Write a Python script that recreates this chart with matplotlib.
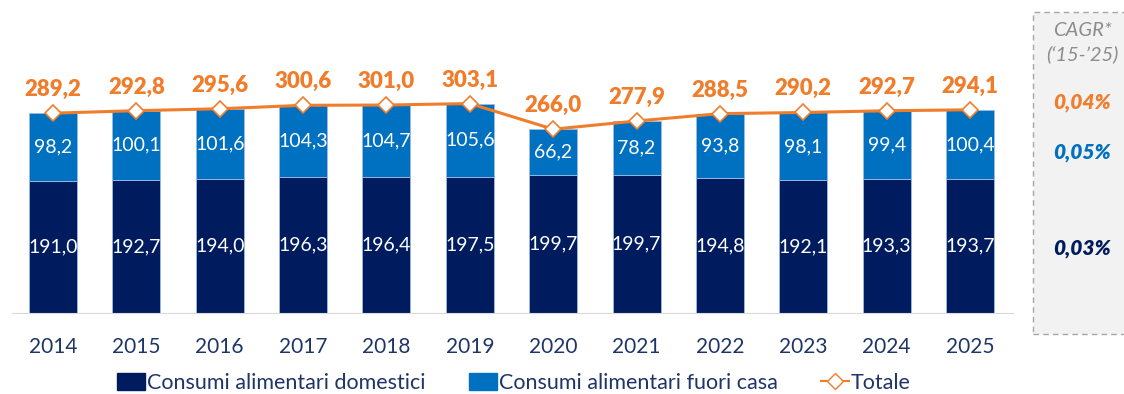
"""Consumi alimentari in Italia: domestici vs fuori casa, 2014-2025."""
import matplotlib.pyplot as plt
from matplotlib.patches import Rectangle
from matplotlib.lines import Line2D

plt.rcParams["font.family"] = ["Lato", "DejaVu Sans"]

years = ["2014", "2015", "2016", "2017", "2018", "2019",
         "2020", "2021", "2022", "2023", "2024", "2025"]
domestici = [191.0, 192.7, 194.0, 196.3, 196.4, 197.5,
             199.7, 199.7, 194.8, 192.1, 193.3, 193.7]
fuori_casa = [98.2, 100.1, 101.6, 104.3, 104.7, 105.6,
              66.2, 78.2, 93.8, 98.1, 99.4, 100.4]
totale = [289.2, 292.8, 295.6, 300.6, 301.0, 303.1,
          266.0, 277.9, 288.5, 290.2, 292.7, 294.1]
cagr = ["0,04%", "0,05%", "0,03%"]

NAVY = "#001c5e"
BLUE = "#0070c0"
ORANGE = "#f07d2b"
TEXT = "#1f3568"
EDGE = "#9dbbe3"

W, H = 1124, 394
fig = plt.figure(figsize=(W / 100, H / 100), dpi=100)
ax = fig.add_axes([12 / W, 81 / H, 1001 / W, 313 / H])
ax.set_xlim(-0.492, 11.516)
ax.set_ylim(0, 453)

x = range(len(years))
ax.bar(x, domestici, width=0.576, color=NAVY, edgecolor=EDGE, linewidth=0.6)
ax.bar(x, fuori_casa, width=0.576, bottom=domestici, color=BLUE,
       edgecolor=EDGE, linewidth=0.6)
ax.plot(x, totale, color=ORANGE, linewidth=2.2, marker="D", markersize=8,
        markerfacecolor="white", markeredgecolor=ORANGE, markeredgewidth=1.2,
        zorder=3)

fmt = lambda v: f"{v:.1f}".replace(".", ",")
for i in x:
    ax.text(i, domestici[i] / 2, fmt(domestici[i]), ha="center", va="center",
            color="white", fontsize=14)
    ax.text(i, domestici[i] + fuori_casa[i] / 2, fmt(fuori_casa[i]),
            ha="center", va="center", color="white", fontsize=14)
    ax.annotate(fmt(totale[i]), (i, totale[i]), xytext=(0, 17),
                textcoords="offset points", ha="center", va="center",
                color=ORANGE, fontsize=16, fontweight="heavy")

for s in ["left", "right", "top"]:
    ax.spines[s].set_visible(False)
ax.spines["bottom"].set_color("#d9d9d9")
ax.set_yticks([])
ax.set_xticks(list(x))
ax.set_xticklabels(years, fontsize=15, color=TEXT)
ax.tick_params(axis="x", length=0, pad=17)

# CAGR side panel
fig.patches.append(Rectangle((1033 / W, 60 / H), 100 / W, 322 / H,
                             transform=fig.transFigure, facecolor="#f2f2f2",
                             edgecolor="#a6a6a6", linestyle=(0, (4, 3)),
                             linewidth=1.0))
cx = 1082 / W
fig.text(cx, 1 - 30 / H, "CAGR*", ha="center", va="center", fontsize=14.5,
         style="italic", color="#8c8c8c")
fig.text(cx, 1 - 54 / H, "(\u201815-\u201925)", ha="center", va="center",
         fontsize=14.5, style="italic", color="#8c8c8c")
for label, yy, col in zip(cagr, [103, 153, 248], [ORANGE, BLUE, NAVY]):
    fig.text(cx, 1 - yy / H, label, ha="center", va="center", fontsize=15,
             style="italic", fontweight="heavy", color=col)

handles = [
    Rectangle((0, 0), 1, 1, color=NAVY),
    Rectangle((0, 0), 1, 1, color=BLUE),
    Line2D([], [], color=ORANGE, marker="D", markersize=8,
           markerfacecolor="white", markeredgecolor=ORANGE, linewidth=1.5),
]
fig.legend(handles, ["Consumi alimentari domestici",
                     "Consumi alimentari fuori casa", "Totale"],
           loc="center", bbox_to_anchor=(514 / W, 1 - 383 / H), ncol=3,
           frameon=False, fontsize=15.5, labelcolor=TEXT, handlelength=1.3,
           handletextpad=0.1, columnspacing=2.0, handleheight=0.8)

fig.savefig("out.png", dpi=100)
